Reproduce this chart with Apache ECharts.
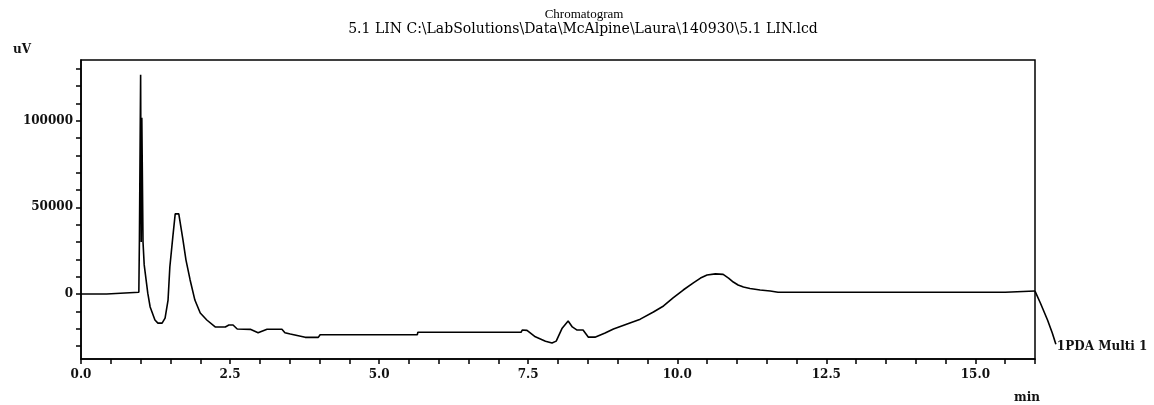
<!DOCTYPE html>
<html>
<head>
<meta charset="utf-8">
<script src="https://cdn.jsdelivr.net/npm/echarts@6/dist/echarts.min.js"></script>
<style>html,body{margin:0;padding:0;background:#fff;}#c{width:1154px;height:405px;}</style>
</head>
<body>
<div id="c"></div>
<script>
// Retention time (min) inside the plot frame
const times = [0.00,0.43,0.44,0.97,0.98,0.99,1.00,1.01,1.02,1.04,1.06,1.12,1.16,1.24,1.29,1.36,1.41,1.46,1.49,1.54,1.58,1.64,1.71,1.76,1.83,1.91,2.00,2.11,2.25,2.42,2.48,2.55,2.62,2.84,2.97,3.12,3.37,3.42,3.51,3.76,3.98,4.01,5.64,5.65,7.38,7.40,7.48,7.62,7.79,7.90,7.97,8.07,8.17,8.24,8.32,8.42,8.51,8.62,8.79,8.93,9.16,9.38,9.60,9.77,9.93,10.10,10.27,10.39,10.50,10.64,10.77,10.86,10.94,11.02,11.11,11.22,11.39,11.56,11.69,15.50,15.51,16.00];
// Signal (uV)
const signal = [0,0,1000,1000,32000,32000,126500,30000,101700,30000,16800,500,-7500,-15000,-16800,-16800,-13900,-3500,15600,33000,46200,46200,31200,19700,8100,-3500,-11000,-15000,-19000,-19000,-17900,-17900,-20200,-20400,-22300,-20300,-20300,-22300,-23100,-25000,-25000,-23500,-23500,-22100,-22100,-20800,-21000,-24700,-27200,-28300,-27200,-19700,-15600,-19000,-20800,-20800,-24900,-24900,-22500,-20200,-17300,-14500,-10400,-6900,-2300,2300,6400,9200,11000,11600,11300,9200,6900,5200,4000,3200,2300,1700,1000,1000,1700,1700];
// Trace continuing past the right edge of the frame
const tailTimes = [16.00,16.09,16.21,16.29,16.35];
const tailSignal = [1700,-5200,-15000,-22500,-29000];
const xTicks = [0,0.5,1,1.5,2,2.5,3,3.5,4,4.5,5,5.5,6,6.5,7,7.5,8,8.5,9,9.5,10,10.5,11,11.5,12,12.5,13,13.5,14,14.5,15,15.5,16];
const xLabels = [0,2.5,5,7.5,10,12.5,15];
const yTicks = [-30000,-20000,-10000,0,10000,20000,30000,40000,50000,60000,70000,80000,90000,100000,110000,120000,130000];
const yLabels = [0,50000,100000];
const titleText = 'Chromatogram';
const subTitleText = '5.1 LIN C:\\LabSolutions\\Data\\McAlpine\\Laura\\140930\\5.1 LIN.lcd';
const seriesName = '1PDA Multi 1';

const data = times.map((t,i)=>[t, signal[i]]);
const tail = tailTimes.map((t,i)=>[t, tailSignal[i]]);
const font = 'DejaVu Serif';
const X_MAX = 16, Y_MIN = -37500, Y_MAX = 135000;
const G = {left:81,right:119,top:60,bottom:46};
const plotW = 1154 - G.left - G.right;
const wideW = 1154 - G.left;
const chart = echarts.init(document.getElementById('c'), null, {renderer:'canvas'});
chart.setOption({
  animation:false,
  backgroundColor:'#fff',
  title:[
    {text:titleText,left:579,top:3,textAlign:'center',textStyle:{fontFamily:'Liberation Serif',fontSize:13,fontWeight:'normal',color:'#000'}},
    {text:subTitleText,left:578,top:17,textAlign:'center',textStyle:{fontFamily:font,fontSize:14,fontWeight:'normal',color:'#000'}},
    {text:'uV',left:8,top:39,textStyle:{fontFamily:font,fontSize:12,fontWeight:'bold',color:'#111'}},
    {text:'min',left:1009,top:387,textStyle:{fontFamily:font,fontSize:12,fontWeight:'bold',color:'#111'}}
  ],
  grid:[
    {left:G.left,right:G.right,top:G.top,bottom:G.bottom,show:true,borderColor:'#000',borderWidth:1.5,backgroundColor:'transparent'},
    {left:G.left,right:0,top:G.top,bottom:G.bottom,show:false}
  ],
  xAxis:[
    {type:'value',gridIndex:0,min:0,max:X_MAX,
      axisLine:{show:true,onZero:false,lineStyle:{color:'#000',width:1.5}},
      axisTick:{show:true,customValues:xTicks,length:5,lineStyle:{color:'#000',width:1.5}},
      axisLabel:{customValues:xLabels,margin:10,formatter:v=>v.toFixed(1),fontFamily:font,fontSize:12,fontWeight:'bold',color:'#111'},
      splitLine:{show:false}},
    {type:'value',gridIndex:1,min:0,max:X_MAX*wideW/plotW,show:false}
  ],
  yAxis:[
    {type:'value',gridIndex:0,min:Y_MIN,max:Y_MAX,
      axisLine:{show:true,onZero:false,lineStyle:{color:'#000',width:1.5}},
      axisTick:{show:true,customValues:yTicks,length:5,lineStyle:{color:'#000',width:1.5}},
      axisLabel:{customValues:yLabels,margin:8,formatter:v=>String(v),fontFamily:font,fontSize:12,fontWeight:'bold',color:'#111'},
      splitLine:{show:false}},
    {type:'value',gridIndex:1,min:Y_MIN,max:Y_MAX,show:false}
  ],
  series:[
    {type:'line',name:seriesName,xAxisIndex:0,yAxisIndex:0,data:data,showSymbol:false,
      lineStyle:{color:'#000',width:1.6}},
    {type:'line',name:seriesName+' tail',xAxisIndex:1,yAxisIndex:1,data:tail,showSymbol:false,clip:false,
      lineStyle:{color:'#000',width:1.6},
      endLabel:{show:true,formatter:seriesName,distance:1,offset:[0,3],fontFamily:font,fontSize:12,fontWeight:'bold',color:'#111'}}
  ]
});
</script>
</body>
</html>
